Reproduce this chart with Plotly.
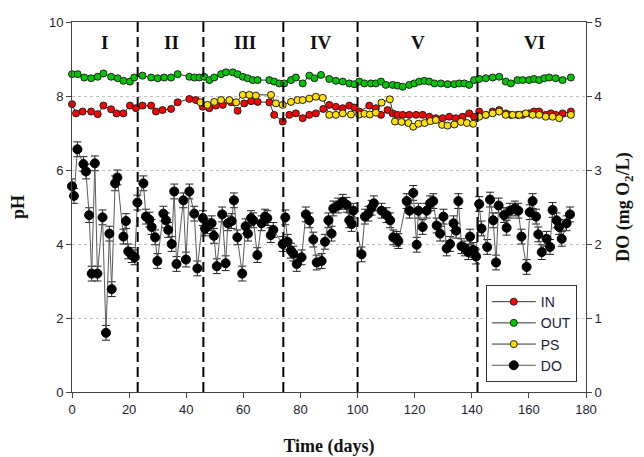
import plotly.graph_objects as go

# ---------------- data ----------------
in_days = [0, 1.4, 3.7, 6.7, 9, 11, 13.7, 15.6, 18, 20.3, 22.4, 24.7, 27.7, 29.4, 31.7, 34.7, 37,
           41.1, 43.4, 45.8, 48.1, 50.4, 52.8, 55.7, 58, 60.3, 62.7, 65, 69.1, 70.8, 73.8, 76.1,
           78.4, 80.8, 83.1, 85.4, 88, 90.1, 92.4, 94.8, 97.1, 98.9, 100.6, 104.1, 106.4, 108.2,
           110.5, 112.3, 114, 115.8, 118.1, 120.5, 122.8, 125.1, 127.4, 129.8, 132.1, 134.4,
           136.8, 139.1, 140.8, 142.6, 144.9, 147.3, 149.6, 151.9, 153.7, 156, 157.8, 160.1,
           161.8, 163.6, 165.9, 167.7, 169.4, 171.8, 174.7]
in_ph = [7.78, 7.53, 7.58, 7.58, 7.51, 7.74, 7.64, 7.53, 7.53, 7.74, 7.67, 7.74, 7.74, 7.58, 7.62,
         7.65, 7.83, 7.92, 7.89, 7.71, 7.67, 7.74, 7.76, 7.83, 7.60, 7.80, 7.86, 7.84, 7.83, 7.49,
         7.31, 7.49, 7.53, 7.40, 7.49, 7.53, 7.65, 7.76, 7.71, 7.67, 7.74, 7.69, 7.58, 7.74, 7.67,
         7.49, 7.62, 7.53, 7.49, 7.49, 7.49, 7.49, 7.49, 7.44, 7.40, 7.40, 7.44, 7.40, 7.44, 7.53,
         7.44, 7.58, 7.49, 7.58, 7.62, 7.53, 7.49, 7.49, 7.49, 7.53, 7.58, 7.58, 7.49, 7.53, 7.49,
         7.53, 7.58]

out_days = [0, 2, 4.3, 6.7, 9, 11, 13.7, 16, 18, 20.3, 21.8, 24.7, 27.7, 30, 32.3, 34.7, 37, 41.1,
            42.8, 44.6, 46.3, 48.1, 49.8, 52.2, 53.9, 56.3, 58, 59.8, 61.5, 63.3, 65, 69.1, 70.8,
            72.6, 74.3, 76.7, 78.4, 80.8, 83.1, 84.9, 87.2, 90.1, 92.4, 94.8, 97.1, 98.9, 100.6,
            102.4, 104.7, 106.4, 108.2, 109.9, 112.3, 114, 115.8, 118.1, 119.9, 121.6, 123.4,
            125.1, 126.9, 129.2, 131.5, 133.9, 135.6, 137.4, 139.1, 140.8, 142.6, 144.9, 147.3,
            149.6, 151.9, 153.7, 156, 157.8, 160.1, 161.8, 163.6, 165.4, 167.1, 169.4, 171.8, 174.7]
out_ph = [8.59, 8.59, 8.50, 8.48, 8.52, 8.61, 8.52, 8.48, 8.41, 8.39, 8.50, 8.55, 8.50, 8.48, 8.50,
          8.50, 8.59, 8.52, 8.50, 8.50, 8.52, 8.43, 8.50, 8.59, 8.64, 8.64, 8.59, 8.52, 8.48, 8.43,
          8.43, 8.43, 8.39, 8.34, 8.34, 8.43, 8.50, 8.34, 8.55, 8.48, 8.57, 8.46, 8.41, 8.39, 8.34,
          8.32, 8.39, 8.34, 8.34, 8.34, 8.39, 8.30, 8.30, 8.28, 8.25, 8.30, 8.34, 8.39, 8.41, 8.39,
          8.34, 8.34, 8.32, 8.32, 8.34, 8.34, 8.30, 8.43, 8.46, 8.48, 8.50, 8.52, 8.39, 8.34, 8.43,
          8.43, 8.43, 8.46, 8.43, 8.48, 8.50, 8.48, 8.43, 8.50]

ps_days = [45, 47.4, 49.8, 52.2, 55.1, 57.5, 59.8, 62.1, 64.4, 69.7, 71.4, 73.8, 76.7, 79, 80.8,
           83.1, 85.4, 87.8, 90.1, 92.4, 94.8, 97.7, 100.6, 102.4, 104.3, 106.4, 108.4, 111.3,
           113.1, 115.4, 117.8, 119.5, 121.3, 123.5, 125.5, 127.4, 129.6, 131.5, 133.9, 136.2,
           138.3, 140.5, 142.6, 144.9, 147.3, 149.6, 151.9, 154.3, 156.6, 158.9, 161.3, 163.6,
           165.9, 168.3, 170.6, 174.7]
ps_ph = [7.83, 7.76, 7.84, 7.89, 7.89, 7.83, 8.03, 8.03, 8.01, 8.03, 7.80, 7.76, 7.84, 7.89, 7.89,
         7.93, 7.98, 7.95, 7.49, 7.49, 7.53, 7.50, 7.50, 7.52, 7.50, 7.55, 7.82, 7.91, 7.31, 7.30,
         7.27, 7.17, 7.25, 7.27, 7.32, 7.35, 7.22, 7.20, 7.23, 7.30, 7.27, 7.25, 7.44, 7.49, 7.53,
         7.58, 7.49, 7.49, 7.49, 7.53, 7.49, 7.49, 7.44, 7.44, 7.40, 7.49]

do_days = [0, 0.7, 1.9, 4, 4.9, 6, 6.9, 8, 8.9, 10.7, 11.9, 13.1, 13.9, 15.1, 15.9, 18, 18.9, 19.7,
           20.9, 22, 22.9, 25, 25.9, 27.1, 27.9, 29.1, 29.9, 32, 32.9, 33.7, 34.9, 35.8, 36.6, 39,
           39.9, 41.1, 42.8, 43.9, 45.8, 46.6, 47.4, 48.9, 49.7, 50.7, 52.6, 53.8, 54.6, 55.9, 56.7,
           57.9, 59.6, 60.8, 61.6, 62.7, 63.5, 64.9, 66.4, 67.6, 68.4, 69.6, 70.5, 73.8, 74.7, 75.5,
           76.7, 77.5, 78.7, 80.4, 81.9, 83.1, 84.5, 85.7, 87.4, 88.6, 89.8, 90.9, 91.5, 93.2, 94.8,
           96.2, 97.1, 97.9, 98.5, 101.4, 102.6, 103.8, 104.9, 105.7, 108.4, 110.2, 111.4, 112.5,
           113.7, 114.3, 117.2, 118.2, 119.5, 120.7, 121.3, 122.8, 124.2, 125.4, 126.5, 127.7,
           128.9, 130.1, 131.2, 132.4, 133.6, 134.5, 135.3, 136.4, 137.6, 138.8, 139.4, 140.5,
           141.5, 142.6, 143.4, 145.4, 146.4, 147.5, 148.5, 149.4, 151.3, 152.2, 153.4, 155.1,
           156.3, 157.4, 159.2, 160.3, 161.3, 162.5, 163.3, 164.5, 166.2, 167.4, 168.3, 169.7,
           170.6, 171.5, 173.2, 174.4]
do_val = [2.78, 2.65, 3.28, 3.08, 2.98, 2.39, 1.60, 3.09, 1.60, 2.36, 0.80, 2.14, 1.39, 2.82, 2.90,
          2.10, 2.31, 1.90, 1.85, 1.82, 2.56, 2.82, 2.37, 2.33, 2.23, 2.09, 1.77, 2.41, 2.32, 2.19,
          2.00, 2.71, 1.73, 2.59, 1.79, 2.71, 2.41, 1.67, 2.35, 2.21, 2.24, 2.28, 2.11, 1.70, 2.40,
          1.74, 2.28, 2.31, 2.59, 2.09, 1.60, 2.24, 2.14, 2.35, 2.32, 1.85, 2.28, 2.37, 2.35, 2.12,
          2.19, 2.00, 2.36, 2.03, 1.91, 1.87, 1.73, 1.82, 2.40, 2.32, 2.06, 1.75, 1.77, 2.03, 2.32,
          2.14, 2.48, 2.52, 2.57, 2.53, 2.32, 2.27, 2.45, 1.86, 2.37, 2.41, 2.49, 2.55, 2.45, 2.39,
          2.32, 2.09, 2.07, 2.04, 2.58, 2.45, 2.69, 1.99, 2.45, 2.23, 2.45, 2.55, 2.58, 2.25, 2.14,
          2.37, 1.94, 2.00, 2.28, 2.18, 2.58, 1.97, 1.94, 1.89, 2.10, 1.92, 1.83, 2.54, 2.21, 1.96,
          2.60, 2.32, 1.75, 2.52, 2.39, 2.22, 2.45, 2.48, 2.45, 2.10, 1.69, 2.43, 2.58, 2.37, 2.13,
          1.89, 2.07, 1.96, 2.46, 2.32, 2.23, 2.07, 2.28, 2.40]

ph_err = 0.06
do_err = 0.1

phase_bounds = [23, 46, 74, 100, 142]
phase_labels = ["I", "II", "III", "IV", "V", "VI"]
phase_label_x = [11.5, 35, 60.5, 87, 121, 162]

x_ticks = [0, 20, 40, 60, 80, 100, 120, 140, 160, 180]

# ---------------- figure ----------------
fig = go.Figure()

def ph_trace(name, xs, ys, color):
    return go.Scatter(
        x=xs, y=ys, name=name, mode="lines+markers",
        line=dict(color="#333333", width=1),
        marker=dict(color=color, size=7, line=dict(color="#222222", width=1)),
        error_y=dict(type="constant", value=ph_err, color="#222222", thickness=1, width=3),
        cliponaxis=False,
    )

fig.add_trace(ph_trace("IN", in_days, in_ph, "#ff0000"))
fig.add_trace(ph_trace("OUT", out_days, out_ph, "#00c800"))
fig.add_trace(ph_trace("PS", ps_days, ps_ph, "#ffe000"))
fig.add_trace(go.Scatter(
    x=do_days, y=do_val, name="DO", mode="lines+markers", yaxis="y2",
    line=dict(color="#5a5a5a", width=1),
    marker=dict(color="#000000", size=9, line=dict(color="#000000", width=1)),
    error_y=dict(type="constant", value=do_err, color="#222222", thickness=1, width=4),
    cliponaxis=False,
))

for b in phase_bounds:
    fig.add_shape(type="line", x0=b, x1=b, xref="x", y0=0, y1=1, yref="paper",
                  line=dict(color="#000000", width=2, dash="10px,5px"))

for lab, lx in zip(phase_labels, phase_label_x):
    fig.add_annotation(x=lx, y=9.45, xref="x", yref="y", text="<b>%s</b>" % lab,
                       showarrow=False,
                       font=dict(family="Liberation Serif", size=19, color="#111111"))

axis_font = dict(family="Liberation Sans", size=13, color="#222233")
title_font = dict(family="Liberation Serif", size=18, color="#111111")

# the page adds an 8px body margin, so the figure is drawn 8px smaller
fig.update_layout(
    width=636, height=449, autosize=False,
    margin=dict(l=64, r=58, t=14, b=65),
    paper_bgcolor="white", plot_bgcolor="white",
    showlegend=True,
    legend=dict(x=0.805, y=0.289, xanchor="left", yanchor="top",
                bgcolor="white", bordercolor="#333333", borderwidth=1,
                font=dict(family="Liberation Sans", size=14, color="#1a1a3a"),
                itemsizing="trace", itemwidth=44, tracegroupgap=0),
    xaxis=dict(range=[0, 180], tickvals=x_ticks, showgrid=False, zeroline=False,
               showline=True, linecolor="#444444", linewidth=1, mirror=True,
               ticks="outside", ticklen=5, tickcolor="#444444", tickfont=axis_font,
               automargin=False,
               title=dict(text="<b>Time (days)</b>", font=title_font, standoff=24)),
    yaxis=dict(range=[0, 10], dtick=2, showgrid=True, gridcolor="#c0c0c0", griddash="dot",
               gridwidth=1, zeroline=False,
               showline=True, linecolor="#444444", linewidth=1,
               ticks="outside", ticklen=5, tickcolor="#444444", tickfont=axis_font,
               automargin=False,
               title=dict(text="<b>pH</b>", font=title_font, standoff=26)),
    yaxis2=dict(range=[0, 5], dtick=1, overlaying="y", side="right", showgrid=False,
                zeroline=False, showline=True, linecolor="#444444", linewidth=1,
                ticks="outside", ticklen=5, tickcolor="#444444", tickfont=axis_font,
                automargin=False,
                title=dict(text="<b>DO (mg O<sub>2</sub>/L)</b>", font=title_font, standoff=15)),
)

fig.write_html("out.html")
